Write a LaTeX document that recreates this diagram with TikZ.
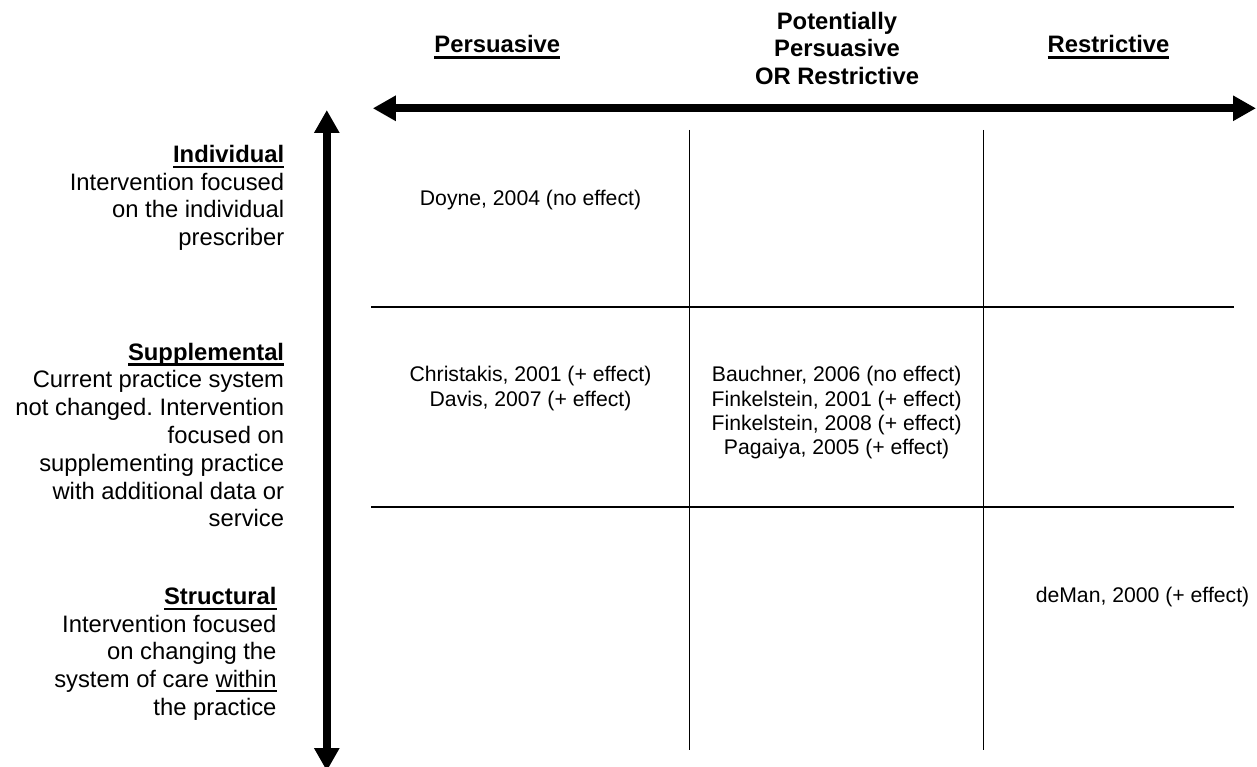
\documentclass[tikz,border=0pt]{standalone}
\usepackage{fontspec}
\setmainfont{Liberation Sans}
\usetikzlibrary{arrows.meta}
\frenchspacing
\newsavebox\myulbox
\newcommand\hdul[1]{\sbox\myulbox{#1}\rlap{\vrule height -3.4pt depth 6pt width \wd\myulbox}\usebox\myulbox}
\newcommand\thinul[1]{\sbox\myulbox{#1}\rlap{\vrule height -2.4pt depth 4pt width \wd\myulbox}\usebox\myulbox}
\tikzset{
  axisarrow/.style={line width=8.3pt, {Triangle[length=23pt,width=24pt]}-{Triangle[length=23pt,width=24pt]}},
  gridline/.style={line width=1.8pt},
  hdr/.style={inner sep=0pt, anchor=base, font={\fontsize{23.8}{27.3}\selectfont\bfseries}},
  lbl/.style={inner sep=0pt, anchor=base east, font={\fontsize{23.8}{27.8}\selectfont}},
  cell/.style={inner sep=0pt, anchor=base, font={\fontsize{21.2}{24.4}\selectfont}},
}
\begin{document}
\begin{tikzpicture}[x=1pt,y=-1pt]
\useasboundingbox (0,0) rectangle (1257,767);
\clip (0,0) rectangle (1257,767);
% headers
\node[hdr] (hpers) at (497.3,52.7) {\hdul{Persuasive}};
\node[hdr] (hpot) at (837,29.5) {\begin{tabular}[t]{@{}c@{}}Potentially\\Persuasive\\OR Restrictive\end{tabular}};
\node[hdr] (hrest) at (1108.5,52.7) {\hdul{Restrictive}};
% axes
\coordinate (axL) at (372.8,108.3);
\coordinate (axR) at (1256,108.3);
\draw[axisarrow] (axL) -- (axR);
\coordinate (axT) at (326.8,110);
\coordinate (axB) at (326.8,771);
\draw[axisarrow] (axT) -- (axB);
% grid
\coordinate (v1t) at (689.5,130); \coordinate (v1b) at (689.5,750);
\coordinate (v2t) at (983.5,130); \coordinate (v2b) at (983.5,750);
\coordinate (h1l) at (371,307.3); \coordinate (h1r) at (1234,307.3);
\coordinate (h2l) at (371,507.3); \coordinate (h2r) at (1234,507.3);
\draw[gridline] (v1t) -- (v1b);
\draw[gridline] (v2t) -- (v2b);
\draw[gridline] (h1l) -- (h1r);
\draw[gridline] (h2l) -- (h2r);
% row labels
\node[lbl] (lind) at (284.4,162.3) {\begin{tabular}[t]{@{}r@{}}\textbf{\hdul{Individual}}\\Intervention focused\\on the individual\\prescriber\end{tabular}};
\node[lbl] (lsup) at (284.3,360) {\begin{tabular}[t]{@{}r@{}}\textbf{\hdul{Supplemental}}\\Current practice system\\not changed. Intervention\\focused on\\supplementing practice\\with additional data or\\service\end{tabular}};
\node[lbl] (lstr) at (276.7,604.3) {\begin{tabular}[t]{@{}r@{}}\textbf{\hdul{Structural}}\\Intervention focused\\on changing the\\system of care \thinul{within}\\the practice\end{tabular}};
% cells
\node[cell] (cdoyne) at (530.5,206) {Doyne, 2004 (no effect)};
\node[cell] (cchris) at (530.5,381.7) {\begin{tabular}[t]{@{}c@{}}Christakis, 2001 (+ effect)\\Davis, 2007 (+ effect)\end{tabular}};
\node[cell] (cbauch) at (836.6,381.7) {\begin{tabular}[t]{@{}c@{}}Bauchner, 2006 (no effect)\\Finkelstein, 2001 (+ effect)\\Finkelstein, 2008 (+ effect)\\Pagaiya, 2005 (+ effect)\end{tabular}};
\node[cell] (cdeman) at (1142.5,602.5) {deMan, 2000 (+ effect)};
\end{tikzpicture}
\end{document}
